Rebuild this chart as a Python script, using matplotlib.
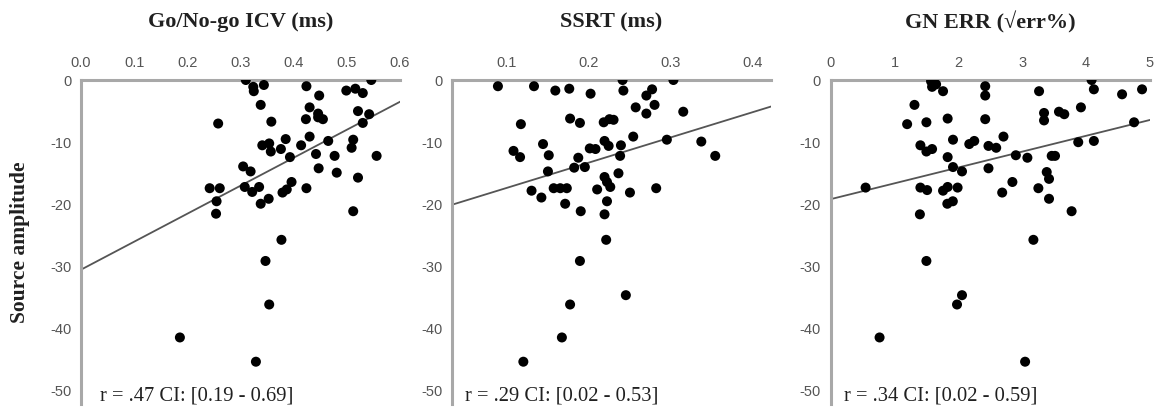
import matplotlib
matplotlib.use("Agg")
import matplotlib.pyplot as plt
import numpy as np

plt.rcParams['axes.unicode_minus'] = False

# ---------------- data ----------------
titles = ["Go/No-go ICV (ms)", "SSRT (ms)", "GN ERR (\u221aerr%)"]
annotations = ["r = .47 CI: [0.19 - 0.69]", "r = .29 CI: [0.02 - 0.53]", "r = .34 CI: [0.02 - 0.59]"]
ylabel = "Source amplitude"

icv_x = [0.31, 0.324, 0.325, 0.344, 0.424, 0.448, 0.499, 0.516, 0.530, 0.546,
         0.338, 0.358, 0.430, 0.423, 0.446, 0.446, 0.455, 0.521, 0.542, 0.530,
         0.341, 0.354, 0.357, 0.376, 0.385, 0.414, 0.430, 0.393, 0.465, 0.512,
         0.509, 0.442, 0.477, 0.556, 0.305, 0.319, 0.447, 0.481, 0.521, 0.308,
         0.322, 0.335, 0.396, 0.387, 0.379, 0.424, 0.338, 0.353, 0.512, 0.258,
         0.242, 0.261, 0.255, 0.254, 0.377, 0.347, 0.354, 0.186, 0.329]
icv_y = [0.0, -1.1, -1.8, -0.8, -1.0, -2.5, -1.7, -1.4, -2.1, 0.0,
         -4.0, -6.7, -4.4, -6.3, -5.4, -6.0, -6.3, -5.0, -5.5, -6.9,
         -10.5, -10.2, -11.5, -11.1, -9.5, -10.5, -9.1, -12.4, -9.8, -9.6,
         -10.9, -11.9, -12.2, -12.2, -13.9, -14.7, -14.2, -14.9, -15.7, -17.2,
         -18.0, -17.2, -16.4, -17.6, -18.1, -17.4, -19.9, -19.1, -21.1, -7.0,
         -17.4, -17.4, -19.5, -21.5, -25.7, -29.1, -36.1, -41.4, -45.3]

ssrt_x = [0.089, 0.133, 0.159, 0.176, 0.202, 0.117, 0.177, 0.189, 0.108, 0.116,
          0.144, 0.151, 0.187, 0.201, 0.208, 0.150, 0.182, 0.195, 0.130, 0.142,
          0.157, 0.165, 0.173, 0.171, 0.190, 0.241, 0.303, 0.242, 0.277, 0.270,
          0.280, 0.257, 0.270, 0.315, 0.218, 0.225, 0.230, 0.254, 0.219, 0.224,
          0.239, 0.295, 0.337, 0.354, 0.238, 0.236, 0.219, 0.222, 0.226, 0.210,
          0.250, 0.282, 0.222, 0.219, 0.221, 0.189, 0.245, 0.177, 0.167, 0.120]
ssrt_y = [-1.0, -1.0, -1.7, -1.4, -2.2, -7.1, -6.2, -6.9, -11.4, -12.4,
          -10.3, -12.1, -12.5, -11.0, -11.1, -14.7, -14.1, -14.0, -17.8, -18.9,
          -17.4, -17.4, -17.4, -19.9, -21.1, 0.0, 0.0, -1.7, -1.5, -2.5,
          -4.0, -4.4, -5.4, -5.1, -6.8, -6.3, -6.4, -9.1, -9.8, -10.6,
          -10.5, -9.6, -9.9, -12.2, -12.2, -15.0, -15.6, -16.4, -17.2, -17.6,
          -18.1, -17.4, -19.5, -21.6, -25.7, -29.1, -34.6, -36.1, -41.4, -45.3]

err_x = [1.573, 1.652, 1.589, 1.761, 2.422, 2.422, 1.313, 1.198, 1.50, 1.833,
         2.422, 1.917, 1.406, 1.50, 1.589, 1.833, 2.172, 2.25, 2.473, 2.594,
         1.917, 2.058, 2.473, 0.547, 1.406, 1.511, 1.761, 1.833, 1.989, 1.828,
         1.914, 1.398, 2.688, 4.089, 4.125, 3.266, 4.567, 4.880, 3.344, 3.344,
         3.578, 3.661, 3.922, 4.755, 2.708, 2.902, 3.083, 3.464, 3.516, 3.880,
         4.125, 3.386, 3.422, 2.848, 3.255, 3.422, 3.776, 3.177, 1.50, 2.058,
         1.980, 0.766, 3.047]
err_y = [-0.2, -0.7, -1.1, -1.8, -1.0, -2.5, -4.0, -7.1, -6.8, -6.2,
         -6.3, -9.6, -10.5, -11.5, -11.1, -12.4, -10.3, -9.8, -10.6, -10.9,
         -14.0, -14.7, -14.2, -17.3, -17.3, -17.7, -17.8, -17.2, -17.3, -19.9,
         -19.5, -21.6, -18.1, 0.0, -1.5, -1.8, -2.3, -1.5, -5.3, -6.5,
         -5.1, -5.5, -4.4, -6.8, -9.1, -12.1, -12.5, -12.2, -12.2, -10.0,
         -9.8, -14.8, -15.9, -16.4, -17.4, -19.1, -21.1, -25.7, -29.1, -34.6,
         -36.1, -41.4, -45.3]

# regression lines (intercept, slope)
fit_icv = (-30.5, 45.0)
fit_ssrt = (-21.4, 40.6)
fit_err = (-19.16, 2.545)

xlims = [(0.0, 0.6), (0.033, 0.422), (0.0, 5.0)]
xticks = [[0.0, 0.1, 0.2, 0.3, 0.4, 0.5, 0.6], [0.1, 0.2, 0.3, 0.4], [0, 1, 2, 3, 4, 5]]
xticklabels = [["0.0", "0.1", "0.2", "0.3", "0.4", "0.5", "0.6"],
               ["0.1", "0.2", "0.3", "0.4"],
               ["0", "1", "2", "3", "4", "5"]]
yticks = [0, -10, -20, -30, -40, -50]
ylim = (-52.1, 0)

xs = [icv_x, ssrt_x, err_x]
ys = [icv_y, ssrt_y, err_y]
fits = [fit_icv, fit_ssrt, fit_err]

# ---------------- figure ----------------
W, H = 1159, 407
fig = plt.figure(figsize=(W / 100, H / 100), dpi=100)

lefts = [81, 452, 830.7]
width_px = 319
top_px, bottom_px = 80, 404
text_offsets = [19, 13, 13]

spine_col = '#a8a8a8'
tick_col = '#555555'
serif = ['Liberation Serif', 'DejaVu Serif']

for i in range(3):
    ax = fig.add_axes([lefts[i] / W, (H - bottom_px) / H, width_px / W, (bottom_px - top_px) / H])
    ax.set_xlim(*xlims[i])
    ax.set_ylim(*ylim)
    for s in ['right', 'bottom']:
        ax.spines[s].set_visible(False)
    for s in ['top', 'left']:
        ax.spines[s].set_color(spine_col)
        ax.spines[s].set_linewidth(2.2)
    ax.xaxis.tick_top()
    ax.set_xticks(xticks[i])
    ax.set_xticklabels(xticklabels[i])
    ax.set_yticks(yticks)
    ax.set_yticklabels([str(v) for v in yticks])
    ax.tick_params(axis='x', length=0, pad=7.5, labelsize=10.5, labelcolor=tick_col)
    ax.tick_params(axis='y', length=0, pad=7, labelsize=10.5, labelcolor=tick_col)
    for lab in ax.get_xticklabels() + ax.get_yticklabels():
        lab.set_family(['Liberation Sans', 'DejaVu Sans'])

    b0, b1 = fits[i]
    lx = np.array(xlims[i])
    ax.plot(lx, b0 + b1 * lx, color='#555555', lw=1.3, zorder=2)
    ax.scatter(xs[i], ys[i], s=52, color='black', edgecolors='none', zorder=3)

    ax.text(text_offsets[i] / width_px, 0.012, annotations[i], transform=ax.transAxes,
            ha='left', va='baseline', fontsize=14.8, family=serif, color='#202020')

    cx = (lefts[i] + width_px / 2) / W
    fig.text(cx, 1 - 22 / H, titles[i], ha='center', va='center', fontsize=16,
             fontweight='bold', family=serif, color='#202020')

fig.text(20 / W, 1 - 242 / H, ylabel, rotation=90, ha='center', va='center', fontsize=15.5,
         fontweight='bold', family=serif, color='#202020')

fig.savefig('out.png', dpi=100)
